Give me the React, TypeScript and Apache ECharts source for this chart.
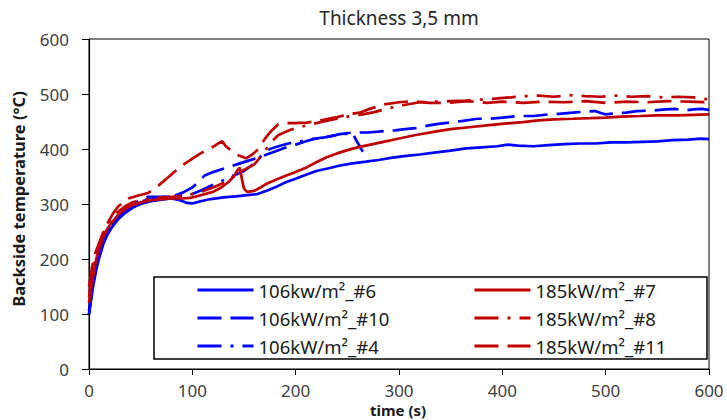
import React, { useEffect, useRef } from "react";
import * as echarts from "echarts";

const titleText = "Thickness 3,5 mm";
const xTitle = "time (s)";
const yTitle = "Backside temperature (°C)";

const names = [
  "106kw/m²_#6",
  "106kW/m²_#10",
  "106kW/m²_#4",
  "185kW/m²_#7",
  "185kW/m²_#8",
  "185kW/m²_#11",
];

const s6: [number, number][] = [
  [0, 100], [2, 125], [4, 150], [7, 180], [10, 203], [14, 228], [18, 245], [22, 257], [28, 272], [35, 284],
  [42, 293], [50, 300], [60, 305], [70, 308], [80, 310], [88, 307], [95, 302], [100, 301], [108, 305], [118, 309],
  [130, 312], [142, 314], [153, 316], [163, 318], [172, 324], [182, 332], [191, 340], [200, 346], [210, 353],
  [220, 360], [232, 365], [243, 370], [255, 374], [268, 377], [280, 380], [292, 384], [305, 387], [320, 390],
  [336, 394], [350, 397], [365, 401], [380, 403], [395, 405], [405, 408], [415, 406], [430, 405], [445, 407],
  [460, 409], [475, 410], [490, 410], [505, 412], [520, 412], [535, 413], [550, 414], [565, 416], [580, 417],
  [592, 419], [600, 418],
];

const s10: [number, number][] = [
  [0, 100], [2, 130], [4, 158], [7, 188], [10, 210], [14, 232], [18, 249], [22, 260], [28, 275], [35, 287],
  [42, 296], [50, 304], [58, 309], [66, 311], [75, 313], [84, 316], [92, 322], [100, 330], [106, 340], [112, 352],
  [120, 358], [133, 366], [143, 372], [153, 378], [163, 384], [172, 390], [182, 397], [191, 403], [200, 408],
  [210, 414], [217, 418], [230, 422], [243, 427], [255, 430], [270, 430], [283, 432], [296, 434], [306, 436],
  [316, 438], [329, 443], [340, 446], [352, 449], [362, 451], [376, 455], [388, 455], [400, 457], [415, 460],
  [430, 460], [445, 463], [455, 464], [468, 466], [480, 468], [490, 469], [496, 465], [500, 463], [510, 465],
  [520, 466], [530, 469], [545, 470], [558, 472], [567, 473], [576, 470], [585, 472], [593, 473], [600, 471],
];

const s4: [number, number][] = [
  [0, 105], [2, 135], [4, 160], [7, 190], [10, 212], [14, 234], [18, 250], [22, 261], [28, 276], [35, 289],
  [42, 299], [50, 308], [57, 313], [67, 313], [77, 313], [88, 315], [100, 318], [110, 326], [120, 335], [130, 343],
  [140, 352], [150, 360], [160, 374], [168, 390], [175, 400], [185, 406], [193, 410], [205, 414], [215, 418],
  [228, 421], [240, 425], [250, 428], [255, 430], [258, 418], [262, 405], [265, 395],
];

const s7: [number, number][] = [
  [0, 120], [2, 145], [4, 170], [7, 200], [10, 220], [14, 240], [18, 256], [22, 266], [28, 280], [35, 291],
  [42, 298], [50, 303], [60, 307], [70, 309], [80, 310], [90, 310], [98, 311], [108, 316], [120, 322], [128, 330],
  [135, 340], [140, 350], [144, 362], [146, 366], [148, 345], [150, 328], [153, 322], [160, 324], [166, 330],
  [172, 337], [182, 345], [191, 352], [200, 358], [211, 367], [220, 376], [230, 385], [240, 392], [250, 398],
  [260, 403], [270, 407], [285, 413], [300, 419], [315, 425], [336, 432], [350, 436], [370, 440], [385, 443],
  [402, 446], [420, 449], [435, 452], [450, 454], [468, 455], [485, 456], [500, 457], [515, 459], [534, 460],
  [550, 461], [570, 461], [585, 462], [600, 463],
];

const s8: [number, number][] = [
  [0, 130], [2, 160], [4, 185], [7, 210], [10, 228], [14, 246], [18, 262], [22, 272], [28, 286], [35, 296],
  [42, 303], [50, 307], [60, 310], [70, 312], [80, 313], [90, 315], [100, 318], [110, 323], [120, 330], [130, 338],
  [140, 350], [150, 362], [160, 372], [168, 390], [175, 410], [183, 425], [195, 435], [205, 440], [215, 445],
  [227, 450], [240, 455], [253, 460], [265, 463], [276, 467], [290, 474], [305, 480], [320, 485], [335, 486],
  [350, 487], [365, 488], [380, 490], [395, 492], [408, 494], [420, 496], [435, 497], [450, 495], [465, 498],
  [480, 496], [495, 495], [510, 497], [525, 495], [540, 496], [555, 494], [570, 495], [585, 494], [600, 490],
];

const s11: [number, number][] = [
  [0, 150], [3, 185], [6, 210], [9, 225], [13, 245], [18, 265], [23, 282], [28, 295], [33, 303], [38, 310],
  [47, 315], [57, 320], [64, 328], [70, 338], [77, 349], [83, 359], [90, 370], [98, 380], [108, 392], [120, 404],
  [126, 411], [129, 414], [132, 406], [137, 398], [145, 388], [152, 383], [158, 390], [164, 400], [170, 418],
  [175, 430], [183, 445], [192, 447], [199, 447], [211, 448], [227, 453], [240, 458], [253, 464], [262, 466],
  [270, 472], [286, 481], [300, 485], [313, 487], [329, 484], [349, 484], [366, 487], [385, 484], [400, 486],
  [420, 484], [440, 486], [460, 485], [480, 487], [500, 484], [520, 486], [540, 485], [560, 487], [580, 486],
  [600, 485],
];

const BLUE = "#0000ff";
const RED = "#c00000";
const FONT = "'Noto Sans', sans-serif";

export default function App() {
  const ref = useRef<HTMLDivElement>(null);
  useEffect(() => {
    if (!ref.current) return;
    const chart = echarts.init(ref.current, undefined, { renderer: "svg" });
    const mk = (name: string, data: [number, number][], color: string, type: any) => ({
      name,
      type: "line",
      data,
      symbol: "none",
      showSymbol: false,
      smooth: false,
      lineStyle: { color, width: 2.7, type },
      itemStyle: { color },
      z: 2,
    });
    const dash = [24, 9];
    const dashDot = [24, 9, 3, 9];
    const legendCommon = {
      orient: "vertical",
      top: 280,
      itemWidth: 56,
      itemHeight: 14,
      itemGap: 8,
      padding: 0,
      selectedMode: false,
      itemStyle: { opacity: 0, borderWidth: 0 },
      lineStyle: { width: 3 },
      textStyle: { fontFamily: FONT, fontSize: 18.5, color: "#1a1a1a", lineHeight: 20, padding: [0, 0, 0, 0] },
      z: 10,
    };
    chart.setOption({
      animation: false,
      backgroundColor: "#ffffff",
      textStyle: { fontFamily: FONT },
      grid: { left: 89, right: 18, top: 39, bottom: 51, show: true, borderColor: "#000", borderWidth: 1 },
      xAxis: {
        type: "value",
        min: 0,
        max: 600,
        interval: 100,
        axisLine: { show: true, onZero: false, lineStyle: { color: "#000", width: 1.2 } },
        axisTick: { show: true, inside: false, length: 6, lineStyle: { color: "#000" } },
        axisLabel: { fontSize: 17, color: "#404040", margin: 13, fontFamily: FONT },
        splitLine: { show: false },
      },
      yAxis: {
        type: "value",
        min: 0,
        max: 600,
        interval: 100,
        axisLine: { show: true, onZero: false, lineStyle: { color: "#000", width: 1.2 } },
        axisTick: { show: true, inside: false, length: 7, lineStyle: { color: "#000" } },
        axisLabel: { fontSize: 17, color: "#404040", margin: 20, fontFamily: FONT },
        splitLine: { show: false },
      },
      legend: [
        { ...legendCommon, left: 196, data: [names[0], names[1], names[2]] },
        { ...legendCommon, left: 473, data: [names[3], names[4], names[5]] },
      ],
      graphic: [
        {
          type: "rect",
          z: 5,
          shape: { x: 154, y: 277, width: 553, height: 82 },
          style: { fill: "#fff", stroke: "#000", lineWidth: 1.5 },
        },
        {
          type: "text",
          x: 399,
          y: 18,
          style: { text: titleText, align: "center", verticalAlign: "middle", font: `19px ${FONT}`, fill: "#262626" },
        },
        {
          type: "text",
          x: 398,
          y: 410,
          style: { text: xTitle, align: "center", verticalAlign: "middle", font: `bold 15px ${FONT}`, fill: "#1a1a1a" },
        },
        {
          type: "text",
          x: 18,
          y: 199,
          rotation: Math.PI / 2,
          style: { text: yTitle, align: "center", verticalAlign: "middle", font: `bold 16.5px ${FONT}`, fill: "#1a1a1a" },
        },
      ],
      series: [
        mk(names[0], s6, BLUE, "solid"),
        mk(names[1], s10, BLUE, dash),
        mk(names[2], s4, BLUE, dashDot),
        mk(names[3], s7, RED, "solid"),
        mk(names[4], s8, RED, dashDot),
        mk(names[5], s11, RED, dash),
      ],
    });
    return () => chart.dispose();
  }, []);
  return <div ref={ref} style={{ width: 727, height: 420, position: "absolute", left: 0, top: 0 }} />;
}
